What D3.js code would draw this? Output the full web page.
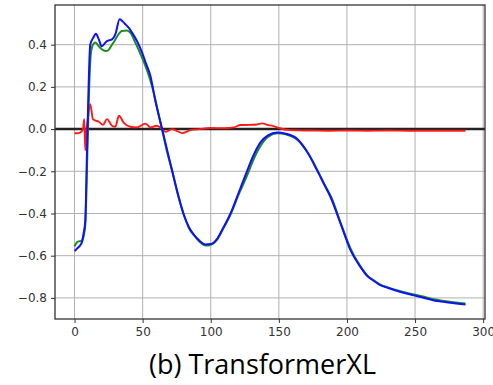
<!DOCTYPE html>
<html>
<head>
<meta charset="utf-8">
<script src="https://cdn.jsdelivr.net/npm/d3@7"></script>
<style>
  html, body { margin: 0; padding: 0; background: #fff; }
  svg { display: block; }
</style>
</head>
<body>
<svg id="chart" width="493" height="385"></svg>
<script>
// Sampled attention-shift traces (step index, value)
const blueX = [0, 2, 4, 5.4, 6.6, 7.9, 9.1, 10.3, 11.5, 13.5, 15.7, 17.8, 20, 22, 23.8, 27.5, 30, 33.1, 35, 37.3, 40, 42.2, 46, 49.6, 52.5, 55.7, 59.3, 64.3, 68, 71.6, 76, 80.1, 84, 87.5, 92, 96.1, 100, 104.7, 109, 114.5, 120, 126.8, 131, 136.5, 142, 148.8, 155, 163.5, 171, 178.2, 183.1, 188, 195.4, 202.7, 210, 215, 219.9, 224.8, 229.7, 239.5, 249.3, 254.2, 264, 268.9, 280, 287];
const blueY = [-0.578, -0.565, -0.552, -0.536, -0.496, -0.434, -0.118, 0.197, 0.40, 0.43, 0.452, 0.425, 0.392, 0.405, 0.417, 0.425, 0.45, 0.52, 0.512, 0.497, 0.478, 0.457, 0.415, 0.362, 0.31, 0.252, 0.134, 0.0, -0.10, -0.197, -0.31, -0.405, -0.465, -0.500, -0.530, -0.547, -0.545, -0.52, -0.47, -0.40, -0.31, -0.197, -0.13, -0.063, -0.03, -0.016, -0.022, -0.047, -0.11, -0.197, -0.26, -0.323, -0.449, -0.575, -0.654, -0.697, -0.720, -0.741, -0.752, -0.772, -0.788, -0.796, -0.812, -0.817, -0.826, -0.831];

const greenX = [0, 1.8, 3, 5, 6.6, 7.9, 9.3, 10.6, 12, 13.5, 15.2, 17.5, 20, 22.6, 24.5, 27, 30, 32, 34.8, 38.5, 41.5, 44.6, 48, 52, 55, 58.1, 61, 64.5, 68, 72, 76, 80.5, 84, 88, 92, 96.5, 100, 104.7, 109, 114.5, 120, 127, 131, 137, 142, 149, 155, 163.5, 171, 178.5, 183.5, 188.5, 195.6, 203, 210, 215, 220, 225, 230, 240, 250, 255, 265, 270, 280, 287];
const greenY = [-0.556, -0.536, -0.532, -0.53, -0.51, -0.45, -0.14, 0.17, 0.36, 0.40, 0.41, 0.395, 0.378, 0.37, 0.372, 0.395, 0.425, 0.447, 0.465, 0.467, 0.452, 0.41, 0.362, 0.30, 0.245, 0.173, 0.09, -0.01, -0.11, -0.205, -0.315, -0.41, -0.47, -0.505, -0.535, -0.552, -0.548, -0.524, -0.474, -0.405, -0.318, -0.215, -0.15, -0.075, -0.037, -0.02, -0.025, -0.05, -0.11, -0.197, -0.262, -0.323, -0.449, -0.572, -0.652, -0.695, -0.718, -0.738, -0.75, -0.769, -0.785, -0.792, -0.808, -0.813, -0.822, -0.826];

const redX = [0, 2, 4.2, 6.2, 7.1, 7.9, 8.6, 9.6, 11.5, 13.5, 15.5, 17.6, 20.9, 23.8, 27.5, 29.9, 32.6, 36, 41, 45.9, 52, 55.7, 60.1, 63, 66.7, 71.6, 75, 79, 85, 92, 99.8, 110, 117, 121.8, 129, 134, 137.8, 141.5, 146, 150, 158.6, 165, 175, 188, 200, 215, 230, 245, 260, 275, 287];
const redY = [-0.02, -0.02, -0.016, 0.0, 0.047, -0.10, -0.02, 0.04, 0.118, 0.047, 0.04, 0.036, 0.02, 0.047, 0.016, 0.011, 0.063, 0.031, 0.011, 0.008, 0.026, 0.008, 0.016, 0.008, -0.013, 0.0, -0.008, -0.019, -0.005, 0.0, 0.005, 0.004, 0.008, 0.019, 0.02, 0.022, 0.027, 0.02, 0.014, 0.005, -0.005, -0.006, -0.007, -0.008, -0.007, -0.008, -0.007, -0.008, -0.008, -0.008, -0.008];

const xTicks = [0, 50, 100, 150, 200, 250, 300];
const yTicks = [-0.8, -0.6, -0.4, -0.2, 0.0, 0.2, 0.4];
const caption = "(b) TransformerXL";

const svg = d3.select("#chart");
const plot = { left: 55, right: 485, top: 5, bottom: 319 };

const x = d3.scaleLinear().domain([-14.35, 301.35]).range([plot.left, plot.right]);
const y = d3.scaleLinear().domain([-0.9, 0.588]).range([plot.bottom, plot.top]);

// grid
const grid = svg.append("g");
grid.selectAll("line.gx").data(xTicks.filter(t => x(t) < plot.right)).enter().append("line")
  .attr("x1", d => x(d)).attr("x2", d => x(d))
  .attr("y1", plot.top).attr("y2", plot.bottom)
  .attr("stroke", "#b0b0b0").attr("stroke-width", 1);
grid.selectAll("line.gy").data(yTicks).enter().append("line")
  .attr("y1", d => y(d)).attr("y2", d => y(d))
  .attr("x1", plot.left).attr("x2", plot.right)
  .attr("stroke", "#b0b0b0").attr("stroke-width", 1);

// axes
const fmtY = d => d3.format(".1f")(d).replace("-", "\u2212");
const yAxis = d3.axisLeft(y).tickValues(yTicks).tickFormat(fmtY).tickSize(4).tickPadding(4);
const xAxis = d3.axisBottom(x).tickValues(xTicks).tickFormat(d3.format("d")).tickSize(4).tickPadding(4);

const gy = svg.append("g").attr("transform", `translate(${plot.left},0)`).call(yAxis);
const gx = svg.append("g").attr("transform", `translate(0,${plot.bottom})`).call(xAxis);
[gx, gy].forEach(g => {
  g.select(".domain").remove();
  g.selectAll(".tick line").attr("stroke", "#333").attr("stroke-width", 1);
  g.selectAll(".tick text").attr("fill", "#333")
    .style("font-family", "DejaVu Sans").style("font-size", "12px");
});

svg.append("clipPath").attr("id", "plotclip").append("rect")
  .attr("x", plot.left).attr("y", plot.top)
  .attr("width", plot.right - plot.left).attr("height", plot.bottom - plot.top);

const layer = svg.append("g").attr("clip-path", "url(#plotclip)");

// zero reference line
layer.append("line")
  .attr("x1", plot.left).attr("x2", plot.right)
  .attr("y1", y(0)).attr("y2", y(0))
  .attr("stroke", "#222").attr("stroke-width", 2.5);

const line = d3.line().x(d => x(d[0])).y(d => y(d[1])).curve(d3.curveMonotoneX);
const series = [
  { xs: redX, ys: redY, color: "#ff1a1a", w: 1.9 },
  { xs: greenX, ys: greenY, color: "#1a8f1a", w: 2 },
  { xs: blueX, ys: blueY, color: "#1010ff", w: 2 }
];
series.forEach(s => {
  layer.append("path")
    .datum(d3.zip(s.xs, s.ys))
    .attr("d", line)
    .attr("fill", "none")
    .attr("stroke", s.color)
    .attr("stroke-width", s.w)
    .attr("stroke-linejoin", "round");
});

// frame
svg.append("rect")
  .attr("x", plot.left).attr("y", plot.top)
  .attr("width", plot.right - plot.left).attr("height", plot.bottom - plot.top)
  .attr("fill", "none").attr("stroke", "#333").attr("stroke-width", 1.3);

// caption
svg.append("text")
  .attr("x", 262.5).attr("y", 374)
  .attr("text-anchor", "middle")
  .style("font-family", "Open Sans")
  .style("font-size", "27px")
  .attr("fill", "#000")
  .text(caption);
</script>
</body>
</html>
